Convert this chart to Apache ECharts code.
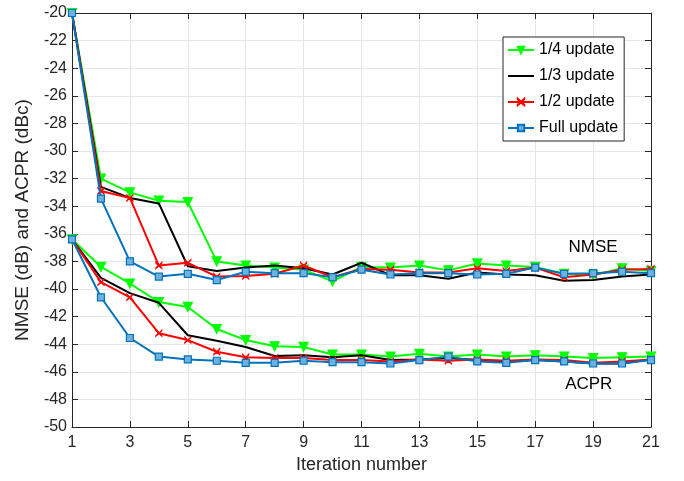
<!DOCTYPE html>
<html><head><meta charset="utf-8">
<script src="https://cdn.jsdelivr.net/npm/echarts@6/dist/echarts.min.js"></script>
<style>html,body{margin:0;padding:0;background:#fff}#c{width:684px;height:481px}</style>
</head><body><div id="c"></div>
<script>
var iterations = [1,2,3,4,5,6,7,8,9,10,11,12,13,14,15,16,17,18,19,20,21];
var seriesNames = ['1/4 update','1/3 update','1/2 update','Full update'];
var nmseQuarter = [-20,-32.0,-33.0,-33.6,-33.7,-38.0,-38.3,-38.45,-38.6,-39.45,-38.4,-38.45,-38.3,-38.65,-38.15,-38.3,-38.4,-38.9,-39.0,-38.5,-38.7];
var nmseThird   = [-20,-32.6,-33.4,-33.8,-38.35,-38.7,-38.45,-38.3,-38.5,-38.95,-38.1,-39.0,-39.0,-39.25,-38.8,-38.95,-39.0,-39.4,-39.35,-39.1,-38.95];
var nmseHalf    = [-20,-32.9,-33.4,-38.3,-38.1,-39.1,-39.05,-38.9,-38.3,-39.15,-38.55,-38.6,-38.8,-38.8,-38.5,-38.7,-38.45,-39.15,-38.95,-38.6,-38.55];
var nmseFull    = [-20,-33.45,-38.0,-39.1,-38.9,-39.35,-38.75,-38.85,-38.85,-39.15,-38.6,-38.95,-38.85,-38.85,-38.95,-38.9,-38.45,-38.9,-38.85,-38.75,-38.85];
var acprQuarter = [-36.4,-38.4,-39.6,-40.95,-41.3,-42.9,-43.7,-44.15,-44.2,-44.75,-44.75,-44.9,-44.7,-44.9,-44.75,-44.9,-44.8,-44.9,-45.0,-44.95,-44.9];
var acprThird   = [-36.4,-39.2,-40.3,-41.0,-43.35,-43.75,-44.2,-44.85,-44.8,-44.95,-44.8,-45.15,-45.1,-45.0,-45.15,-45.25,-45.15,-45.25,-45.4,-45.4,-45.1];
var acprHalf    = [-36.4,-39.5,-40.6,-43.2,-43.7,-44.55,-44.95,-45.0,-45.0,-45.15,-45.15,-45.25,-45.1,-45.2,-45.1,-45.2,-45.1,-45.15,-45.35,-45.25,-45.1];
var acprFull    = [-36.4,-40.6,-43.55,-44.9,-45.1,-45.2,-45.35,-45.35,-45.2,-45.3,-45.3,-45.4,-45.15,-44.9,-45.25,-45.35,-45.15,-45.25,-45.4,-45.4,-45.15];
var annotations = [{text:'NMSE', x:19.0, y:-36.95},{text:'ACPR', x:18.85, y:-46.9}];

function pairs(v){ return iterations.map(function(x,i){ return [x, v[i]]; }); }
var styles = [
  {color:'#00ff00', symbol:'triangle', size:9, rotate:180, fill:'#00ff00'},
  {color:'#000000', symbol:'none', size:0},
  {color:'#ff0000', symbol:'path://M0,0L2,2L4,0L4,0.3L2.3,2L4,3.7L4,4L2,2.3L0,4L0,3.7L1.7,2L0,0.3Z', size:6, fill:'#ff0000'},
  {color:'#0072bd', symbol:'rect', size:7, fill:'#6fb0dc'}
];
var groups = [[nmseQuarter,acprQuarter],[nmseThird,acprThird],[nmseHalf,acprHalf],[nmseFull,acprFull]];
var series = [];
groups.forEach(function(g, k){
  var s = styles[k];
  g.forEach(function(arr){
    series.push({
      name: seriesNames[k], type:'line', data: pairs(arr),
      symbol: s.symbol, symbolSize: s.size, symbolRotate: s.rotate || 0,
      showSymbol: s.symbol !== 'none',
      lineStyle:{color:s.color, width:2},
      itemStyle:{color:s.fill || s.color, borderColor:s.color, borderWidth:1.2},
      emphasis:{disabled:true}, animation:false, z: 2+k
    });
  });
});
var legendData = seriesNames.map(function(n, k){
  return k === 1 ? {name:n, icon:'path://M0,0L26,0L26,2L0,2Z', itemStyle:{color:'#000', borderWidth:0}} : {name:n};
});
var axisCol = '#262626';
var chart = echarts.init(document.getElementById('c'));
chart.setOption({
  animation:false,
  grid:{left:72, right:33, top:13, bottom:54, containLabel:false},
  legend:{
    data: legendData,
    orient:'vertical', left:503, top:37, itemWidth:26, itemHeight:8, itemGap:10,
    padding:[5,6,5,4], backgroundColor:'#fff', borderColor:'#262626', borderWidth:1,
    textStyle:{fontFamily:'Liberation Sans, Arial', fontSize:16, color:'#000'},
    selectedMode:false
  },
  xAxis:[{
    type:'value', min:1, max:21, interval:2,
    name:'Iteration number', nameLocation:'middle', nameGap:28,
    nameTextStyle:{fontFamily:'Liberation Sans Narrow, Liberation Sans, Arial', fontSize:18, color:axisCol},
    axisLine:{show:true, lineStyle:{color:axisCol, width:1}},
    axisTick:{show:true, inside:true, length:6, lineStyle:{color:axisCol}},
    axisLabel:{fontFamily:'Liberation Sans Narrow, Liberation Sans, Arial', fontSize:16, color:axisCol, margin:8},
    splitLine:{show:true, lineStyle:{color:'#e6e6e6', width:1}}
  },{
    type:'value', min:1, max:21, interval:2, position:'top',
    axisLine:{show:true, lineStyle:{color:axisCol, width:1}},
    axisTick:{show:true, inside:true, length:6, lineStyle:{color:axisCol}},
    axisLabel:{show:false}, splitLine:{show:false}
  }],
  yAxis:[{
    type:'value', min:-50, max:-20, interval:2,
    name:'NMSE (dB) and ACPR (dBc)', nameLocation:'middle', nameGap:40, nameRotate:90,
    nameTextStyle:{fontFamily:'Liberation Sans, Arial', fontSize:19, color:axisCol},
    axisLine:{show:true, lineStyle:{color:axisCol, width:1}},
    axisTick:{show:true, inside:true, length:6, lineStyle:{color:axisCol}},
    axisLabel:{fontFamily:'Liberation Sans, Arial', fontSize:16, color:axisCol, margin:5},
    splitLine:{show:true, lineStyle:{color:'#e6e6e6', width:1}}
  },{
    type:'value', min:-50, max:-20, interval:2, position:'right',
    axisLine:{show:true, lineStyle:{color:axisCol, width:1}},
    axisTick:{show:true, inside:true, length:6, lineStyle:{color:axisCol}},
    axisLabel:{show:false}, splitLine:{show:false}
  }],
  series: series
});
chart.setOption({
  graphic: annotations.map(function(a){
    var p = chart.convertToPixel({xAxisIndex:0, yAxisIndex:0}, [a.x, a.y]);
    return {type:'text', x:p[0], y:p[1], z:50,
      style:{text:a.text, fontFamily:'Liberation Sans, Arial', fontSize:17, fill:'#000', align:'center', verticalAlign:'middle'}};
  })
});
</script></body></html>
